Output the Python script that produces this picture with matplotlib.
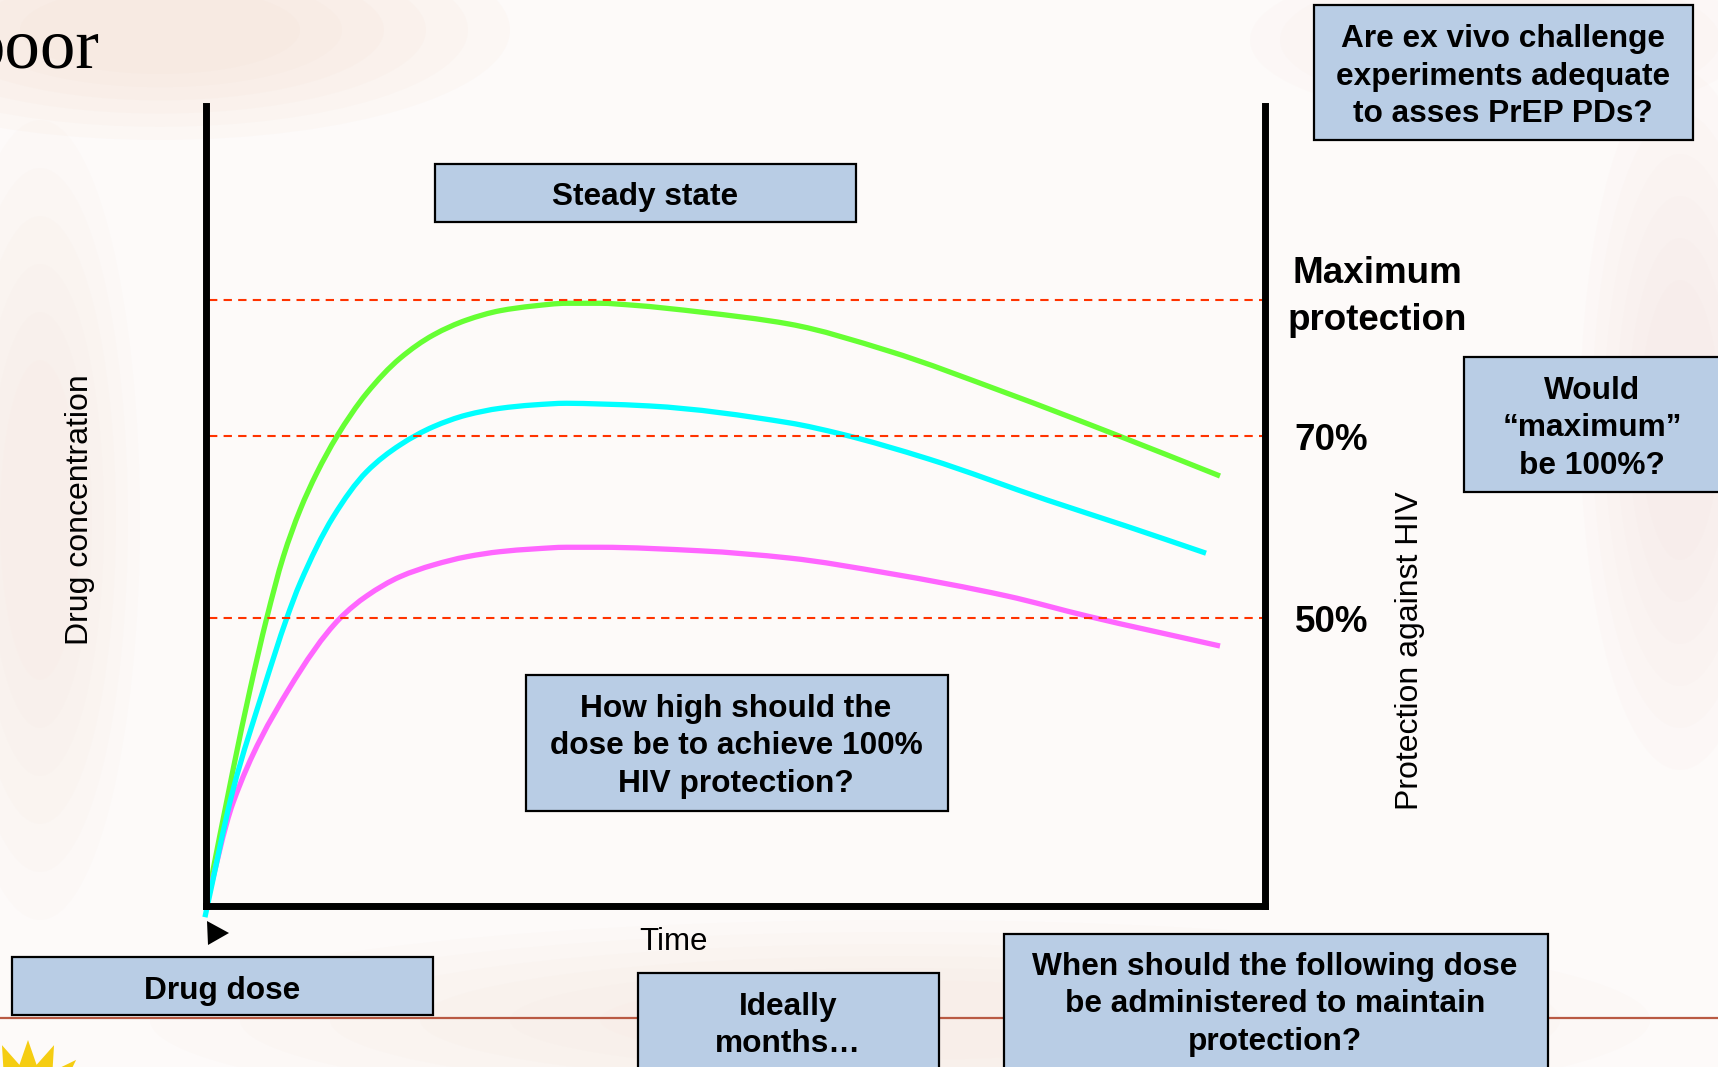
import numpy as np
import matplotlib.pyplot as plt
from matplotlib.patches import Rectangle, Polygon, Ellipse, PathPatch
from matplotlib.path import Path

plt.rcParams['font.family'] = ['Liberation Sans', 'DejaVu Sans']

W, H = 1718, 1067

# drug concentration over time (both in arbitrary 0-100 units)
high_time = [0, 2.55, 4.15, 5.73, 7.30, 8.88, 10.45, 12.34, 15.17, 18.32, 21.47, 24.62,
             27.76, 30.91, 34.06, 37.2, 40.32, 46.65, 55.05, 64.4, 75.64, 85.74, 95.75]
high_conc = [0, 17.0, 27.0, 35.96, 43.66, 49.5, 54.09, 58.66, 64.09, 68.46, 71.38, 73.25,
             74.41, 75.0, 75.34, 75.34, 75.1, 74.25, 72.75, 69.4, 64.1, 59.0, 53.75]

mid_time = [-0.1, 2.55, 5.41, 7.62, 8.88, 12.02, 15.17, 18.32, 21.47, 24.62, 27.76, 30.91,
            34.06, 37.2, 41.93, 55.05, 59.96, 68.18, 79.41, 86.87, 94.43]
mid_conc = [-1.4, 14.5, 27.0, 35.96, 40.34, 48.66, 54.29, 57.63, 59.91, 61.38, 62.21, 62.63,
            62.84, 62.75, 62.5, 60.4, 59.0, 55.9, 50.75, 47.5, 44.1]

low_time = [0, 2.55, 7.77, 12.65, 15.17, 18.32, 21.47, 24.62, 27.76, 30.91, 34.06, 37.2,
            46.65, 55.05, 64.4, 75.64, 83.19, 95.75]
low_conc = [0, 12.9, 27.0, 35.96, 38.75, 41.16, 42.63, 43.66, 44.29, 44.63, 44.84, 44.84,
            44.4, 43.5, 41.6, 38.75, 36.25, 32.5]

# protection thresholds and their labels
levels = [75.75, 58.75, 36.0]
level_labels = ['Maximum\nprotection', '70%', '50%']

BOX = '#b9cde5'


def smooth_path(xs, ys):
    # monotone cubic (PCHIP-style slopes) through the points, as Bezier segments
    x = np.asarray(xs, float)
    y = np.asarray(ys, float)
    h = np.diff(x)
    d = np.diff(y) / h
    m = np.empty_like(x)
    m[0], m[-1] = d[0], d[-1]
    for k in range(1, len(x) - 1):
        if d[k - 1] * d[k] <= 0:
            m[k] = 0.0
        else:
            w1 = 2 * h[k] + h[k - 1]
            w2 = h[k] + 2 * h[k - 1]
            m[k] = (w1 + w2) / (w1 / d[k - 1] + w2 / d[k])
    verts = [(x[0], y[0])]
    codes = [Path.MOVETO]
    for k in range(len(x) - 1):
        verts += [(x[k] + h[k] / 3, y[k] + m[k] * h[k] / 3),
                  (x[k + 1] - h[k] / 3, y[k + 1] - m[k + 1] * h[k] / 3),
                  (x[k + 1], y[k + 1])]
        codes += [Path.CURVE4] * 3
    return Path(verts, codes)


fig = plt.figure(figsize=(W / 100, H / 100), dpi=100)
fig.patch.set_facecolor('#fdfaf9')

# faded slide background
back = fig.add_axes([0, 0, 1, 1], zorder=0)
back.set_xlim(0, W)
back.set_ylim(H, 0)
back.axis('off')
for (cx, cy, w, h, c) in [(160, 30, 700, 220, '#f5d6c3'), (40, 520, 200, 800, '#f8e3d8'),
                          (1680, 420, 200, 700, '#f6e0da'), (900, 1020, 1500, 200, '#f8e2d6'),
                          (1500, 40, 500, 160, '#f7e0d4')]:
    for k in range(6):
        back.add_patch(Ellipse((cx, cy), w * (1 - k * 0.12), h * (1 - k * 0.12),
                               color=c, alpha=0.08, lw=0))
back.plot([0, W], [1018, 1018], color='#b95a43', lw=1.6)

# sun logo peeking in at bottom left
ang = np.linspace(0, 2 * np.pi, 33)[:-1]
rad = np.where(np.arange(32) % 2 == 0, 68, 44)
back.add_patch(Polygon(np.c_[28 + rad * np.sin(ang), 1108 - rad * np.cos(ang)],
                       color='#f5cd12', lw=0))

# chart
ax = fig.add_axes([206 / W, 1 - 906 / H, 1059 / W, 800 / H], zorder=1)
ax.set_facecolor('none')
ax.set_xlim(0, 100)
ax.set_ylim(0, 100)
ax.set_xticks([])
ax.set_yticks([])
ax.spines['top'].set_visible(False)
for s in ['left', 'bottom', 'right']:
    ax.spines[s].set_linewidth(5)
ax.spines['bottom'].set_capstyle('projecting')

ax.hlines(levels, 0.3, 99.7, colors='#ff3300', lw=1.5, linestyles=(0, (4, 3)))
for xs, ys, col in [(high_time, high_conc, '#66ff33'),
                    (low_time, low_conc, '#ff66ff'),
                    (mid_time, mid_conc, '#00ffff')]:
    ax.add_patch(PathPatch(smooth_path(xs, ys), fill=False, edgecolor=col,
                           lw=3.8, clip_on=False, capstyle='butt'))

for lvl, lab in zip(levels, level_labels):
    if '\n' in lab:
        ax.text(110.6, lvl + 0.35, lab, ha='center', va='center', fontsize=26.5,
                fontweight='bold', linespacing=1.45, clip_on=False)
    else:
        ax.text(102.8, lvl - 0.55, lab, ha='left', va='center', fontsize=26.5,
                fontweight='bold', clip_on=False)

# slide annotations
front = fig.add_axes([0, 0, 1, 1], zorder=2)
front.set_facecolor('none')
front.set_xlim(0, W)
front.set_ylim(H, 0)
front.axis('off')

front.text(100, 68, 'poor', ha='right', va='baseline', fontsize=51,
           family=['Liberation Serif', 'DejaVu Serif'])
front.text(80, 510, 'Drug concentration', rotation=90, ha='center', va='center', fontsize=23)
front.text(1410, 651, 'Protection against HIV', rotation=90, ha='center', va='center', fontsize=23)
front.text(674, 942, 'Time', ha='center', va='center', fontsize=22.5)

front.add_patch(Polygon([(207, 921), (229, 933), (208, 945)], color='black', lw=0))


def box(x0, y0, x1, y1, text, cx, cy):
    front.add_patch(Rectangle((x0, y0), x1 - x0, y1 - y0, facecolor=BOX,
                              edgecolor='black', lw=1.6, clip_on=False))
    front.text(cx, cy + 3.5, text, ha='center', va='center', fontsize=22.8,
               fontweight='bold', linespacing=1.33)


box(1314, 5, 1693, 140, 'Are ex vivo challenge\nexperiments adequate\nto asses PrEP PDs?', 1503, 73)
box(435, 164, 856, 222, 'Steady state', 645, 194)
box(1464, 357, 1730, 492, 'Would\n\u201cmaximum\u201d\nbe 100%?', 1592, 425)
box(526, 675, 948, 811, 'How high should the\ndose be to achieve 100%\nHIV protection?', 736, 743)
box(12, 957, 433, 1015, 'Drug dose', 222, 987)
box(638, 973, 939, 1080, 'Ideally\nmonths\u2026', 788, 1022)
box(1004, 934, 1548, 1080, 'When should the following dose\nbe administered to maintain\nprotection?', 1275, 1001)

fig.savefig('out.png', dpi=100, facecolor=fig.get_facecolor())
